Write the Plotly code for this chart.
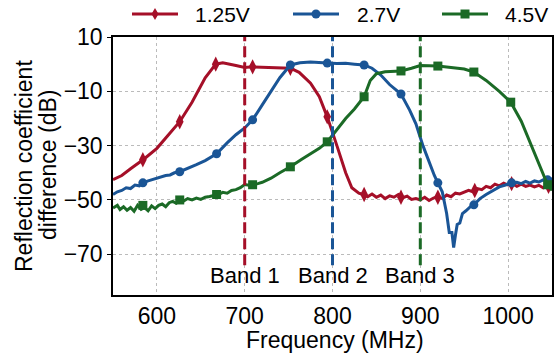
import plotly.graph_objects as go

# ---------------- data ----------------
red_x = [550,560,570,585,600,615,626,640,655,667,675,690,700,709,730,752,762,775,785,794,805,815,822,830,835,840,845,850,855,860,865,870,875,880,885,890,895,900,905,910,915,920,925,930,935,940,945,950,955,960,965,970,975,980,985,990,995,1000,1005,1010,1015,1020,1025,1030,1035,1040,1045,1050]
red_y = [-42.5,-41,-38.5,-35,-31,-25.5,-21.2,-14,-5,0,0.5,-0.5,-1.2,-1,-1.3,-1.5,-3,-7,-12,-19.4,-30,-40,-45.5,-47.5,-48,-48.8,-47.8,-49,-48.2,-49.5,-48.5,-49,-48,-49.2,-48.6,-49.8,-49.5,-50,-49,-50.2,-49.3,-48.8,-49.5,-48.2,-48.8,-47.5,-47.8,-47,-46.5,-47,-45.8,-46.2,-45,-45.5,-44.2,-44.8,-43.8,-44.5,-44,-45,-44.2,-45,-44.5,-45.2,-44.6,-45.5,-44.8,-45.2]
red_mx = [584,626,667,709,752,794,836,878,920,962,1004,1046]
red_my = [-35.2,-21.2,0,-1,-1.5,-19.4,-48,-49,-49,-46.5,-44,-45]

blue_x = [550,555,560,565,570,575,580,584,590,595,600,605,610,615,620,626,635,645,655,668,680,690,700,709,720,730,740,752,763,775,785,794,805,815,825,836,845,855,865,878,888,895,903,910,916,920,925,930,933,936,938,940,942,945,948,952,957,961,968,975,982,990,997,1004,1010,1015,1020,1025,1030,1035,1040,1045,1050]
blue_y = [-48,-47,-46.5,-45.5,-45.8,-44.5,-44.8,-43.7,-43,-42.5,-41.8,-41.5,-41,-40.8,-40,-39.6,-38.5,-37,-35.5,-33,-29,-26,-23.5,-20.5,-15,-10,-5,-0.3,0.5,0.8,0.5,0.4,0.2,0.3,0,-0.3,-1.5,-4,-7.5,-11,-17,-22,-30,-36,-41,-43.7,-47,-55,-62,-62,-67.5,-63,-59,-58.5,-55,-54,-52.5,-51.8,-49.5,-48,-46.8,-45.2,-44.5,-43.7,-43.5,-44,-43.2,-43.8,-43,-43.4,-42.6,-42.8,-42]
blue_mx = [584,626,668,709,752,794,836,878,920,961,1004,1045]
blue_my = [-43.7,-39.6,-33,-20.5,-0.3,0.4,-0.3,-11,-43.7,-51.8,-43.7,-42.6]

green_x = [550,555,558,562,566,570,574,578,582,586,590,594,598,602,606,610,614,618,622,626,630,635,640,645,650,655,660,665,670,675,680,685,690,695,700,705,709,715,720,730,740,752,765,775,785,794,805,815,825,836,843,850,860,870,878,890,900,910,920,935,950,961,975,990,1003,1015,1025,1035,1045,1050]
green_y = [-53,-52,-53.5,-52.5,-53.8,-52.8,-54.2,-52,-53.5,-52.8,-54,-52.2,-53.2,-52,-51.5,-52.5,-51,-50.5,-51.2,-50,-50.5,-49.5,-50,-49.3,-49.8,-49,-48.7,-48.3,-48,-47.2,-47.5,-46.5,-46.2,-45.5,-44.3,-44.6,-44.4,-44,-43.5,-42,-40,-37.8,-35,-33,-31,-28.6,-24,-20,-16.5,-12,-6,-3.5,-2.8,-2.6,-2.5,-1.5,-0.5,-0.6,-0.7,-1.2,-1.8,-2.9,-6,-10,-14,-21,-29,-37,-44.4,-46.5]
green_mx = [584,626,668,709,752,794,836,878,920,961,1003,1045]
green_my = [-52,-50,-48,-44.4,-37.8,-28.6,-12,-2.5,-0.7,-2.9,-14,-44.4]

series_names = ["1.25V", "2.7V", "4.5V"]
band_x = [700, 800, 900]
band_labels = ["Band 1", "Band 2", "Band 3"]
x_ticks = [600, 700, 800, 900, 1000]
y_ticks = [10, -10, -30, -50, -70]

# ---------------- style / layout ----------------
RED = "#A50F28"
BLUE = "#1A5596"
GREEN = "#1B6A26"
colors = [RED, BLUE, GREEN]
symbols = ["diamond-tall", "circle", "square"]
msizes = [11, 9, 9]
FONT = "Liberation Sans, Arial, sans-serif"

W, H = 559, 356
ML, MR, MT, MB = 113, 7, 37, 61
PW, PH = W - ML - MR, H - MT - MB


def pxx(px):
    return (px - ML) / PW


def pxy(py):
    return (H - MB - py) / PH


fig = go.Figure()

curves = [(red_x, red_y, red_mx, red_my), (blue_x, blue_y, blue_mx, blue_my),
          (green_x, green_y, green_mx, green_my)]

for (cx, cy, mx, my), name, col, sym, ms in zip(curves, series_names, colors, symbols, msizes):
    fig.add_trace(go.Scatter(x=cx, y=cy, mode="lines", line=dict(color=col, width=3),
                             showlegend=False, hoverinfo="skip"))
    fig.add_trace(go.Scatter(x=mx, y=my, mode="markers", name=name,
                             marker=dict(color=col, symbol=sym, size=ms),
                             showlegend=False))

# band lines
for bx, col, lab in zip(band_x, colors, band_labels):
    fig.add_trace(go.Scatter(x=[bx, bx], y=[-74, 10], mode="lines",
                             line=dict(color=col, width=3, dash="11px,5px"),
                             showlegend=False, hoverinfo="skip"))
    fig.add_annotation(x=bx, y=-78, text=lab, showarrow=False,
                       font=dict(size=22, color="black", family=FONT),
                       xanchor="center", yanchor="middle")

# custom legend (decoration)
leg_line = [(132, 178), (293, 339), (442, 488)]
leg_text = [193, 355, 503]
leg_y = pxy(14)
for (x0, x1), tx, col, name, sym in zip(leg_line, leg_text, colors, series_names, symbols):
    fig.add_shape(type="line", xref="paper", yref="paper", x0=pxx(x0), x1=pxx(x1),
                  y0=leg_y, y1=leg_y, line=dict(color=col, width=3))
    cxp = pxx((x0 + x1) / 2)
    if sym == "circle":
        fig.add_shape(type="circle", xref="paper", yref="paper", xsizemode="pixel",
                      ysizemode="pixel", xanchor=cxp, yanchor=leg_y,
                      x0=-4.5, x1=4.5, y0=-4.5, y1=4.5, fillcolor=col, line=dict(width=0))
    elif sym == "square":
        fig.add_shape(type="rect", xref="paper", yref="paper", xsizemode="pixel",
                      ysizemode="pixel", xanchor=cxp, yanchor=leg_y,
                      x0=-4.5, x1=4.5, y0=-4.5, y1=4.5, fillcolor=col, line=dict(width=0))
    else:
        fig.add_shape(type="path", xref="paper", yref="paper", xsizemode="pixel",
                      ysizemode="pixel", xanchor=cxp, yanchor=leg_y,
                      path="M -3.5 0 L 0 6 L 3.5 0 L 0 -6 Z", fillcolor=col, line=dict(width=0))
    fig.add_annotation(xref="paper", yref="paper", x=pxx(tx), y=leg_y, text=name,
                       showarrow=False, xanchor="left", yanchor="middle",
                       font=dict(size=21, color="black", family=FONT))

# y title (two lines)
fig.add_annotation(xref="paper", yref="paper", x=pxx(24), y=pxy(166),
                   text="Reflection coefficient", textangle=-90, showarrow=False,
                   xanchor="center", yanchor="middle",
                   font=dict(size=23, color="black", family=FONT))
fig.add_annotation(xref="paper", yref="paper", x=pxx(48), y=pxy(165),
                   text="difference (dB)", textangle=-90, showarrow=False,
                   xanchor="center", yanchor="middle",
                   font=dict(size=23, color="black", family=FONT))
# x title
fig.add_annotation(xref="paper", yref="paper", x=pxx(335), y=pxy(340),
                   text="Frequency (MHz)", showarrow=False,
                   xanchor="center", yanchor="middle",
                   font=dict(size=23, color="black", family=FONT))

fig.update_layout(
    width=W, height=H,
    margin=dict(l=ML, r=MR, t=MT, b=MB, autoexpand=False),
    paper_bgcolor="white", plot_bgcolor="white",
    font=dict(family=FONT, size=18, color="black"),
    showlegend=False,
)
fig.update_xaxes(range=[550, 1050], tickvals=x_ticks, showgrid=True,
                 gridcolor="#BBBBBB", griddash="dot", gridwidth=1,
                 showline=True, linecolor="black", linewidth=1.5, mirror=True,
                 ticks="", zeroline=False, tickfont=dict(size=23), automargin=False)
fig.update_yaxes(range=[-85, 10], tickvals=y_ticks, showgrid=True,
                 gridcolor="#BBBBBB", griddash="dot", gridwidth=1,
                 showline=True, linecolor="black", linewidth=1.5, mirror=True,
                 ticks="outside", ticklen=4, tickcolor="black", zeroline=False,
                 tickfont=dict(size=23), automargin=False)

fig.write_html("out.html", config={"displayModeBar": False},
               post_script="document.body.style.margin='0';document.body.style.overflow='hidden';")
